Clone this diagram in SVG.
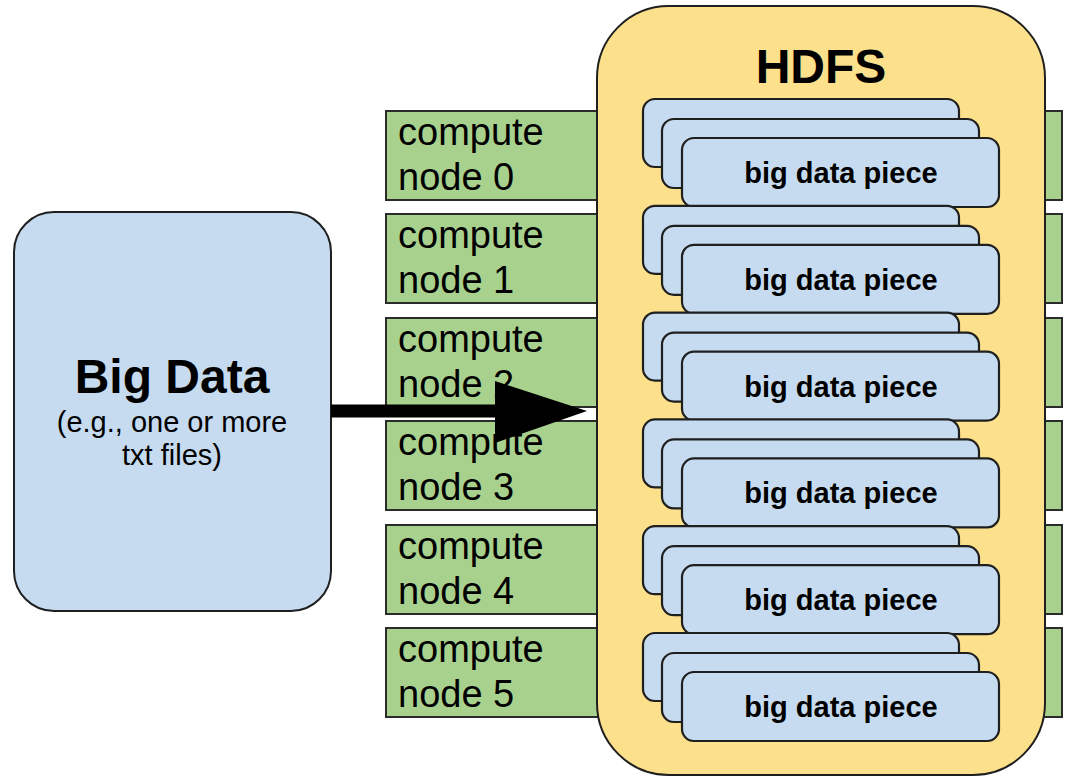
<svg xmlns="http://www.w3.org/2000/svg" width="1076" height="782" viewBox="0 0 1076 782">
<style>
.cn{fill:#a9d18e;stroke:#2b2b2b;stroke-width:2}
.cnt{font-family:"Liberation Sans",Arial,sans-serif;font-size:38px;fill:#000}
.card{fill:#c6dbef;stroke:#1f1f1f;stroke-width:2.2}
.cardt{font-family:"Liberation Sans",Arial,sans-serif;font-size:29px;font-weight:bold;fill:#000;text-anchor:middle}
</style>
<defs>
<g id="stack">
<rect class="card" x="643" y="99" width="316" height="68" rx="12"/>
<rect class="card" x="662" y="119" width="317" height="69" rx="12"/>
<rect class="card" x="682" y="138" width="317" height="69" rx="12"/>
<text class="cardt" x="841" y="183">big data piece</text>
</g>
</defs>
<rect width="1076" height="782" fill="#fff"/>
<g id="compute-nodes">
<g id="cn0"><rect class="cn" x="386" y="111" width="676" height="89"/><text class="cnt" x="398" y="145">compute</text><text class="cnt" x="398" y="190">node 0</text></g>
<g id="cn1"><rect class="cn" x="386" y="214" width="676" height="89"/><text class="cnt" x="398" y="248">compute</text><text class="cnt" x="398" y="293">node 1</text></g>
<g id="cn2"><rect class="cn" x="386" y="318" width="676" height="89"/><text class="cnt" x="398" y="352">compute</text><text class="cnt" x="398" y="397">node 2</text></g>
<g id="cn3"><rect class="cn" x="386" y="421" width="676" height="89"/><text class="cnt" x="398" y="455">compute</text><text class="cnt" x="398" y="500">node 3</text></g>
<g id="cn4"><rect class="cn" x="386" y="525" width="676" height="89"/><text class="cnt" x="398" y="559">compute</text><text class="cnt" x="398" y="604">node 4</text></g>
<g id="cn5"><rect class="cn" x="386" y="628" width="676" height="89"/><text class="cnt" x="398" y="662">compute</text><text class="cnt" x="398" y="707">node 5</text></g>
</g>
<g id="hdfs">
<rect x="597" y="6" width="448" height="769" rx="72" fill="#fde08b" stroke="#1f1f1f" stroke-width="2"/>
<text x="821" y="83" font-family="'Liberation Sans',Arial,sans-serif" font-size="48" font-weight="bold" text-anchor="middle">HDFS</text>
</g>
<g id="pieces">
<use href="#stack"/>
<use href="#stack" y="106.8"/>
<use href="#stack" y="213.6"/>
<use href="#stack" y="320.4"/>
<use href="#stack" y="427.2"/>
<use href="#stack" y="534"/>
</g>
<g id="big-data">
<rect x="14" y="212" width="317" height="399" rx="40" fill="#c6dbef" stroke="#1f1f1f" stroke-width="2"/>
<text x="172" y="393" font-family="'Liberation Sans',Arial,sans-serif" font-size="48" font-weight="bold" text-anchor="middle">Big Data</text>
<text x="172" y="432" font-family="'Liberation Sans',Arial,sans-serif" font-size="29" text-anchor="middle">(e.g., one or more</text>
<text x="172" y="465" font-family="'Liberation Sans',Arial,sans-serif" font-size="29" text-anchor="middle">txt files)</text>
</g>
<g id="connectors">
<path d="M331 404.5 H495 V381 L587 411 L495 443 V417.5 H331 Z" fill="#000"/>
</g>
</svg>
